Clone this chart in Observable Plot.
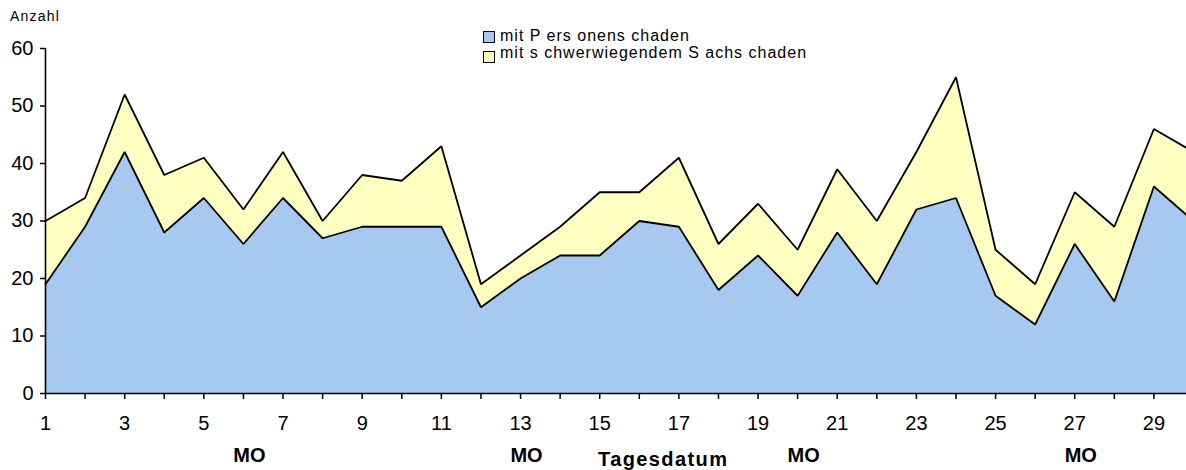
<!DOCTYPE html>
<html><head><meta charset="utf-8">
<script src="https://cdn.jsdelivr.net/npm/d3@7"></script>
<script src="https://cdn.jsdelivr.net/npm/@observablehq/plot@0.6"></script>
<style>
body{margin:0;background:#fff;}
#wrap{position:relative;width:1186px;height:470px;overflow:hidden;font-family:"Liberation Sans",Arial,sans-serif;color:#000;}
#wrap svg{position:absolute;left:0;top:0;}
.ov{position:absolute;white-space:pre;}
.sw{position:absolute;width:10px;height:10px;border:1.5px solid #000;}
</style></head><body><div id="wrap"></div>
<script>
const days=[1,2,3,4,5,6,7,8,9,10,11,12,13,14,15,16,17,18,19,20,21,22,23,24,25,26,27,28,29,30];
const personenschaden=[19,29,42,28,34,26,34,27,29,29,29,15,20,24,24,30,29,18,24,17,28,19,32,34,17,12,26,16,36,30];
const sachschaden=[11,5,10,10,7,6,8,3,9,8,14,4,4,5,11,5,12,8,9,8,11,11,10,21,8,7,9,13,10,12];
const seriesNames=["mit P ers onens chaden","mit s chwerwiegendem S achs chaden"];
const seriesColors=["#a7c9ef","#ffffc1"];
const yTicks=[0,10,20,30,40,50,60];
const mondays=[6,13,20,27];
const mondayLabel="MO";
const xTitle="Tagesdatum";
const yTitle="Anzahl";

const data=[];
days.forEach((d,i)=>{
  data.push({day:d,series:seriesNames[0],value:personenschaden[i]});
  data.push({day:d,series:seriesNames[1],value:sachschaden[i]});
});

const chart=Plot.plot({
  width:1186,height:470,
  marginLeft:45,marginRight:0,marginTop:48,marginBottom:77,
  style:{fontFamily:"'Liberation Sans',Arial,sans-serif",color:"#000",background:"#fff"},
  x:{domain:[1,30],range:[45,1193]},
  y:{domain:[0,60]},
  color:{domain:seriesNames,range:seriesColors},
  marks:[
    Plot.areaY(data,Plot.stackY({x:"day",y:"value",z:"series",fill:"series"})),
    Plot.lineY(data,Plot.stackY2({x:"day",y:"value",z:"series",stroke:"#000",strokeWidth:1.8,strokeLinejoin:"miter"})),
    Plot.ruleX([1],{y1:0,y2:60,stroke:"#000",strokeWidth:1.6}),
    Plot.ruleY([0],{stroke:"#000",strokeWidth:1.6}),
    Plot.axisY({ticks:yTicks,tickSize:5,tickPadding:7,fontSize:20,label:null,stroke:"#000",strokeWidth:1.5}),
    Plot.axisX({ticks:days,tickSize:6,tickPadding:16,fontSize:20,label:null,tickFormat:d=>d%2?String(d):"",stroke:"#000",strokeWidth:1.5}),
    Plot.text(mondays,{x:d=>d,frameAnchor:"bottom",dy:68,dx:6,text:()=>mondayLabel,fontSize:20,fontWeight:"bold",letterSpacing:1})
  ]
});
const wrap=document.getElementById("wrap");
wrap.appendChild(chart);

function addText(txt,left,top,size,extra){
  const el=document.createElement("div");
  el.className="ov";el.textContent=txt;
  el.style.left=left+"px";el.style.top=top+"px";el.style.fontSize=size+"px";
  Object.assign(el.style,extra||{});
  wrap.appendChild(el);return el;
}
addText(yTitle,10,8,14,{letterSpacing:"1.2px"});
const t=addText(xTitle,0,448,20,{fontWeight:"bold",letterSpacing:"1.4px"});
t.style.left=(663-t.offsetWidth/2)+"px";
// legend
const swTops=[31,51];
const txTops=[27,44];
seriesNames.forEach((n,i)=>{
  const s=document.createElement("div");
  s.className="sw";s.style.background=seriesColors[i];
  s.style.left="483px";s.style.top=swTops[i]+"px";
  wrap.appendChild(s);
  addText(n,500,txTops[i],16,{letterSpacing:"1px"});
});
</script></body></html>
